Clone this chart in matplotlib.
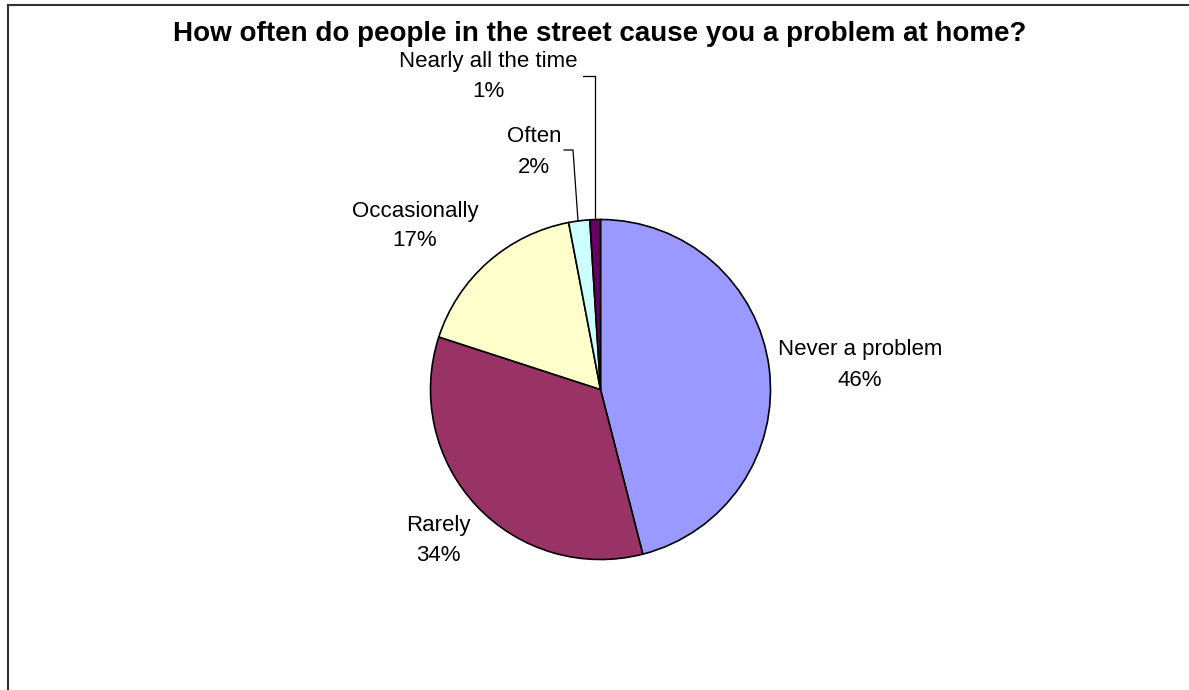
import matplotlib
matplotlib.use('Agg')
import matplotlib.pyplot as plt
from matplotlib.lines import Line2D

# pie data
labels = ['Never a problem', 'Rarely', 'Occasionally', 'Often', 'Nearly all the time']
values = [46, 34, 17, 2, 1]
pct_text = ['46%', '34%', '17%', '2%', '1%']
colors = ['#9999FF', '#993366', '#FFFFCC', '#CCFFFF', '#660066']
title = 'How often do people in the street cause you a problem at home?'

W, H = 1189, 690
plt.rcParams['font.family'] = ['Liberation Sans', 'DejaVu Sans']

fig = plt.figure(figsize=(W / 100, H / 100), dpi=100)
ax = fig.add_axes([0, 0, 1, 1])

# pixel helper: y measured from top
def py(y):
    return H - y

ax.pie(values, colors=colors, startangle=90, counterclock=False,
       center=(600.5, py(389.5)), radius=170,
       wedgeprops=dict(edgecolor='black', linewidth=1.2))
ax.set_xlim(0, W)
ax.set_ylim(0, H)
ax.set_aspect('equal')
ax.axis('off')

# label positions (x centre, baseline of name, baseline of percentage)
label_pos = [(860, 355, 386), (438, 531, 561), (415, 217, 246),
             (534, 142, 173), (488, 67, 97)]
for name, pct, (x, y1, y2) in zip(labels, pct_text, label_pos):
    ax.text(x, py(y1), name, ha='center', va='baseline', fontsize=16)
    ax.text(x, py(y2), pct, ha='center', va='baseline', fontsize=16)

# leader lines
ax.plot([583, 595, 595], [py(76), py(76), py(220)], color='black', lw=0.9)
ax.plot([564, 573, 578], [py(150), py(150), py(221)], color='black', lw=0.9)

ax.text(600, py(41), title, ha='center', va='baseline', fontsize=20,
        fontweight='bold')

# chart frame (runs off the right and bottom edges)
fig.add_artist(Line2D([8 / W, 8 / W], [0, 1 - 5 / H], color='#333333', lw=1.5))
fig.add_artist(Line2D([8 / W, 1], [1 - 5 / H, 1 - 5 / H], color='#333333', lw=1.5))

fig.savefig('out.png', dpi=100, facecolor='white')
